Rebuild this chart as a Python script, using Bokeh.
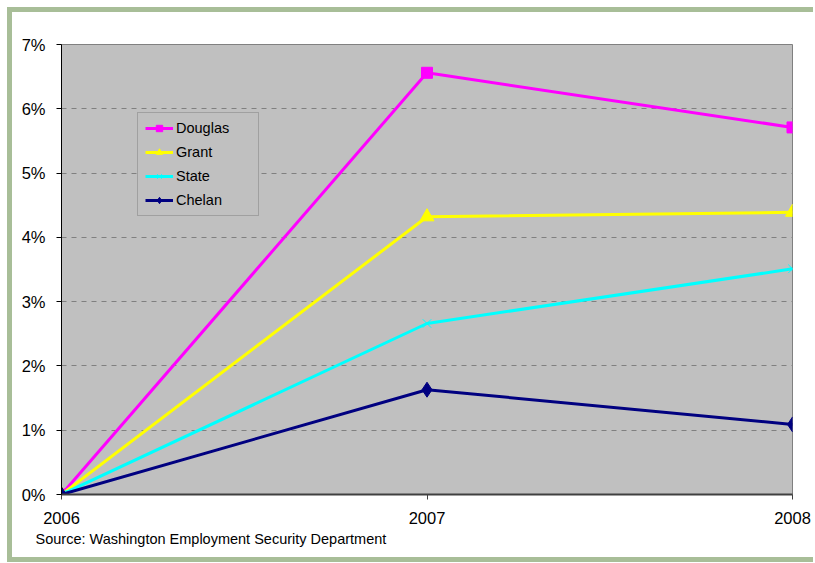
from bokeh.plotting import figure
from bokeh.models import Range1d, FixedTicker, PrintfTickFormatter, Legend, LegendItem, Title
from bokeh.embed import file_html
from bokeh.resources import INLINE

years = [2006, 2007, 2008]
douglas = [0.0, 6.56, 5.71]
grant = [0.0, 4.32, 4.39]
state = [0.0, 2.66, 3.51]
chelan = [0.0, 1.63, 1.09]
y_ticks = [0, 1, 2, 3, 4, 5, 6, 7]
source_text = "Source: Washington Employment Security Department"

FONT = "Liberation Sans"
GREEN = "#A8BE98"

p = figure(width=806, height=555, output_backend="svg", toolbar_location=None,
           x_range=Range1d(2006, 2008), y_range=Range1d(0, 7),
           min_border_left=49, min_border_right=26, min_border_top=32, min_border_bottom=73)
p.styles = {"margin-left": "7px", "margin-top": "7px",
            "border-left": f"5px solid {GREEN}", "border-top": f"5px solid {GREEN}",
            "border-bottom": f"5px solid {GREEN}"}
p.background_fill_color = "#C0C0C0"
p.border_fill_color = "white"
p.outline_line_color = "#808080"
p.outline_line_width = 1

p.xgrid.grid_line_color = None
p.ygrid.grid_line_color = "#808080"
p.ygrid.grid_line_dash = "5 5"
p.ygrid.grid_line_width = 1

p.yaxis.ticker = FixedTicker(ticks=y_ticks)
p.yaxis.formatter = PrintfTickFormatter(format="%d%%")
p.yaxis.minor_tick_line_color = None
p.yaxis.major_tick_in = 0
p.yaxis.major_tick_out = 5
p.yaxis.axis_line_color = "black"
p.yaxis.major_tick_line_color = "black"
p.yaxis.major_label_text_font = FONT
p.yaxis.major_label_text_font_size = "16.5px"
p.yaxis.major_label_text_color = "black"
p.yaxis.major_label_standoff = 11

p.xaxis.ticker = FixedTicker(ticks=years)
p.xaxis.minor_tick_line_color = None
p.xaxis.major_tick_in = 0
p.xaxis.major_tick_out = 5
p.xaxis.axis_line_color = "#404040"
p.xaxis.axis_line_width = 2
p.xaxis.major_tick_line_color = "#404040"
p.xaxis.major_label_text_font = FONT
p.xaxis.major_label_text_font_size = "16.5px"
p.xaxis.major_label_text_color = "black"
p.xaxis.major_label_standoff = 12

series = [
    ("Douglas", douglas, "#FF00FF", "square", 11),
    ("Grant", grant, "#FFFF00", "triangle", 14),
    ("State", state, "#00FFFF", "x", 12),
    ("Chelan", chelan, "#000080", "diamond", 15),
]
items = []
for name, vals, color, marker, size in series:
    r1 = p.line(years, vals, line_color=color, line_width=3)
    if marker == "x":
        r2 = p.scatter(years, vals, marker=marker, size=size, line_color=color, line_width=1)
    else:
        r2 = p.scatter(years, vals, marker=marker, size=size, fill_color=color, line_color=color)
    items.append(LegendItem(label=name, renderers=[r1, r2]))

legend = Legend(items=items, location=(76, 278))
legend.margin = 0
legend.background_fill_color = "#C0C0C0"
legend.background_fill_alpha = 1
legend.border_line_color = "#808080"
legend.border_line_width = 1
legend.label_text_font = FONT
legend.label_text_font_size = "14.5px"
legend.label_text_color = "black"
legend.glyph_width = 28
legend.glyph_height = 16
legend.label_height = 16
legend.label_width = 75
legend.spacing = 8
legend.padding = 7
legend.label_standoff = 3
p.add_layout(legend)

src = Title(text=source_text, align="left", offset=-26, standoff=5,
            text_font=FONT, text_font_size="14.5px", text_color="black",
            text_font_style="normal")
p.add_layout(src, "below")

open("out.html", "w").write(file_html(p, INLINE))
